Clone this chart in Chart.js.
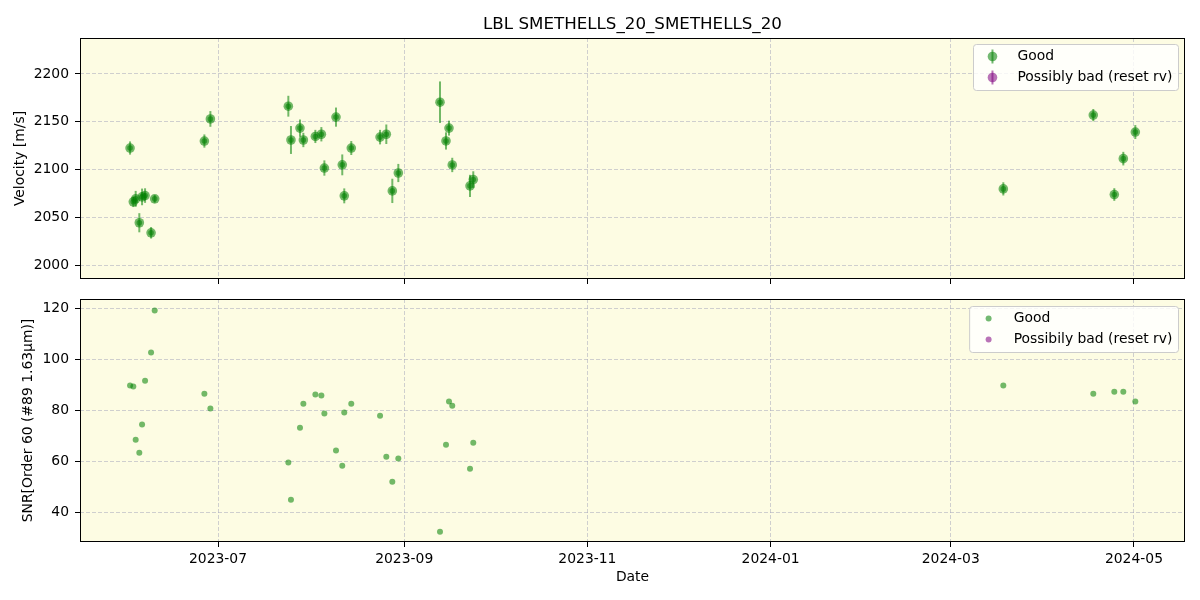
<!DOCTYPE html>
<html>
<head>
<meta charset="utf-8">
<script src="https://cdn.jsdelivr.net/npm/chart.js@4/dist/chart.umd.min.js"></script>
<style>
  body { margin: 0; background: #fff; }
  #wrap { position: relative; width: 1200px; height: 600px; }
  canvas { position: absolute; left: 0; }
</style>
</head>
<body>
<div id="wrap">
  <canvas id="rvChart" width="1200" height="290" style="top:0"></canvas>
  <canvas id="snrChart" width="1200" height="310" style="top:290px"></canvas>
</div>
<script>
const chartTitle = 'LBL SMETHELLS_20_SMETHELLS_20';

// observation times (UTC)
const dates = [
  '2023-06-01T17:00', '2023-06-02T19:00', '2023-06-03T14:00', '2023-06-04T19:00', '2023-06-05T17:00',
  '2023-06-06T17:00', '2023-06-08T17:00', '2023-06-09T22:00', '2023-06-26T11:00', '2023-06-28T11:00',
  '2023-07-24T10:00', '2023-07-25T07:00', '2023-07-28T07:00', '2023-07-29T10:00', '2023-08-02T10:00',
  '2023-08-04T10:00', '2023-08-05T10:00', '2023-08-09T07:00', '2023-08-11T09:00', '2023-08-12T01:00',
  '2023-08-14T09:00', '2023-08-23T23:00', '2023-08-26T01:00', '2023-08-28T01:00', '2023-08-30T01:00',
  '2023-09-12T22:00', '2023-09-14T22:00', '2023-09-15T22:00', '2023-09-17T00:00', '2023-09-22T22:00',
  '2023-09-24T00:00', '2024-03-18T12:00', '2024-04-17T11:00', '2024-04-24T11:00', '2024-04-27T11:00',
  '2024-05-01T11:00'
];
const velocity = [
  2122.6, 2066.4, 2069.5, 2044.5, 2071.5, 2072.9, 2034.0, 2069.5, 2129.9, 2153.0,
  2166.3, 2131.0, 2143.4, 2131.0, 2134.7, 2137.0, 2101.7, 2154.9, 2105.0, 2072.6,
  2122.6, 2134.0, 2137.0, 2077.8, 2096.5, 2170.5, 2130.0, 2143.4, 2104.9, 2083.0,
  2089.6, 2079.9, 2157.0, 2074.0, 2111.5, 2139.3
];
const velocityErr = [
  6.9, 5.5, 8.3, 10.0, 8.7, 7.6, 6.0, 4.0, 6.9, 8.2,
  10.9, 14.6, 9.0, 7.5, 6.9, 7.5, 8.0, 10.0, 10.9, 7.8,
  7.3, 7.6, 10.2, 12.7, 9.5, 21.7, 9.0, 7.8, 7.5, 11.6,
  8.7, 6.9, 6.4, 6.6, 7.1, 7.3
];
const snr = [
  89.7, 89.3, 68.5, 63.4, 74.4, 91.6, 102.6, 119.1, 86.5, 80.7,
  59.5, 45.0, 73.2, 82.6, 86.2, 85.8, 78.7, 64.2, 58.3, 79.1,
  82.6, 77.9, 61.8, 52.0, 61.1, 32.4, 66.5, 83.4, 81.8, 57.1,
  67.3, 89.7, 86.5, 87.3, 87.3, 83.4
];
// no points flagged as possibly bad
const badDates = [];
const badVelocity = [];
const badVelocityErr = [];
const badSnr = [];

const dateRange = ['2023-05-16T01:00', '2024-05-18T00:00'];
const dateTicks = ['2023-07', '2023-09', '2023-11', '2024-01', '2024-03', '2024-05'];
const velocityRange = [1985.7, 2237.6];
const velocityTicks = [2000, 2050, 2100, 2150, 2200];
const snrRange = [28.4, 123.6];
const snrTicks = [40, 60, 80, 100, 120];

const FONT = 'DejaVu Sans';
const FS = 13.9;
const GOOD = 'rgba(0,128,0,0.55)';
const BAD = 'rgba(128,0,128,0.55)';

function toMs(s) {
  if (s.length === 7) s += '-01T00:00';
  return Date.parse(s + 'Z');
}
const tickMs = dateTicks.map(toMs);

function points(xs, ys) {
  return xs.map((d, i) => ({ x: toMs(d), y: ys[i] }));
}

const plotFrame = {
  id: 'plotFrame',
  beforeDraw(chart, args, opts) {
    const a = chart.chartArea, ctx = chart.ctx;
    ctx.save();
    ctx.fillStyle = '#fdfce3';
    ctx.fillRect(a.left, a.top, a.width, a.height);
    if (opts.title) {
      // title centred over the axes, like matplotlib
      ctx.fillStyle = '#000';
      ctx.font = '16.7px "' + FONT + '"';
      ctx.textAlign = 'center';
      ctx.textBaseline = 'middle';
      ctx.fillText(opts.title, (a.left + a.right) / 2, 24.5);
    }
    ctx.restore();
  },
  afterDatasetsDraw(chart) {
    const a = chart.chartArea, ctx = chart.ctx;
    ctx.save();
    ctx.strokeStyle = '#000';
    ctx.lineWidth = 1;
    ctx.strokeRect(Math.round(a.left) + 0.5, Math.round(a.top) + 0.5,
      Math.round(a.width) - 1, Math.round(a.height) - 1);
    ctx.restore();
  }
};

const errorBars = {
  id: 'errorBars',
  beforeDatasetsDraw(chart) {
    const ctx = chart.ctx, y = chart.scales.y;
    chart.data.datasets.forEach((ds, i) => {
      if (!ds.yErr) return;
      const meta = chart.getDatasetMeta(i);
      ctx.save();
      ctx.strokeStyle = ds.backgroundColor;
      ctx.lineWidth = 2;
      meta.data.forEach((pt, j) => {
        const v = ds.data[j].y, e = ds.yErr[j];
        ctx.beginPath();
        ctx.moveTo(pt.x, y.getPixelForValue(v - e));
        ctx.lineTo(pt.x, y.getPixelForValue(v + e));
        ctx.stroke();
      });
      ctx.restore();
    });
  },
  afterDatasetsDraw(chart) {
    const ctx = chart.ctx;
    chart.data.datasets.forEach((ds, i) => {
      if (!ds.yErr) return;
      const meta = chart.getDatasetMeta(i);
      ctx.save();
      ctx.fillStyle = ds.backgroundColor;
      meta.data.forEach(pt => {
        ctx.beginPath();
        ctx.arc(pt.x, pt.y, 2.8, 0, Math.PI * 2);
        ctx.fill();
      });
      ctx.restore();
    });
  }
};

const boxLegend = {
  id: 'boxLegend',
  afterDraw(chart, args, opts) {
    const ctx = chart.ctx, a = chart.chartArea;
    const items = chart.data.datasets;
    ctx.save();
    ctx.font = FS + 'px "' + FONT + '"';
    const tw = Math.max(...items.map(d => ctx.measureText(d.label).width));
    const w = FS * 0.4 * 2 + FS * 2 + FS * 0.8 + tw;
    const h = 46;
    const x = a.right - 7 - w, top = a.top + opts.gap;
    ctx.beginPath();
    if (ctx.roundRect) ctx.roundRect(x + 0.5, top + 0.5, w, h, 3);
    else ctx.rect(x + 0.5, top + 0.5, w, h);
    ctx.fillStyle = 'rgba(255,255,255,0.8)';
    ctx.fill();
    ctx.strokeStyle = '#cccccc';
    ctx.lineWidth = 1;
    ctx.stroke();
    items.forEach((d, i) => {
      const cy = top + 12.5 + i * 21;
      const mx = x + FS * 0.4 + FS;
      ctx.fillStyle = d.backgroundColor;
      ctx.strokeStyle = d.backgroundColor;
      if (opts.errbar) {
        ctx.lineWidth = 2;
        ctx.beginPath();
        ctx.moveTo(mx, cy - 7);
        ctx.lineTo(mx, cy + 7);
        ctx.stroke();
      }
      ctx.beginPath();
      ctx.arc(mx, cy, opts.radius, 0, Math.PI * 2);
      ctx.fill();
      ctx.fillStyle = '#000';
      ctx.textBaseline = 'middle';
      ctx.textAlign = 'left';
      ctx.fillText(d.label, x + FS * 0.4 + FS * 2 + FS * 0.8, cy);
    });
    ctx.restore();
  }
};

function noPad(scale) {
  scale.paddingTop = 0; scale.paddingBottom = 0;
  scale.paddingLeft = 0; scale.paddingRight = 0;
}

function xScale(showLabels, height) {
  return {
    type: 'linear',
    min: toMs(dateRange[0]),
    max: toMs(dateRange[1]),
    afterBuildTicks: s => { s.ticks = tickMs.map(v => ({ value: v })); },
    afterFit: s => { s.height = height; noPad(s); },
    ticks: {
      display: showLabels,
      autoSkip: false,
      maxRotation: 0,
      padding: 4,
      color: '#000',
      font: { family: FONT, size: FS },
      callback: v => dateTicks[tickMs.indexOf(v)] || ''
    },
    grid: {
      color: 'rgba(170,170,190,0.55)',
      lineWidth: 1,
      drawTicks: true,
      tickLength: 5,
      tickColor: '#000',
      tickWidth: 1
    },
    border: { display: false, dash: [4, 2] },
    title: {
      display: showLabels,
      text: 'Date',
      color: '#000',
      font: { family: FONT, size: FS },
      padding: { top: 0, bottom: 14.6 }
    }
  };
}

function yScale(range, ticks, label, titlePad) {
  return {
    type: 'linear',
    min: range[0],
    max: range[1],
    afterBuildTicks: s => { s.ticks = ticks.map(v => ({ value: v })); },
    afterFit: s => { s.width = 80; noPad(s); },
    ticks: {
      padding: 6,
      color: '#000',
      font: { family: FONT, size: FS },
      callback: v => String(v)
    },
    grid: {
      color: 'rgba(170,170,190,0.55)',
      lineWidth: 1,
      drawTicks: true,
      tickLength: 5,
      tickColor: '#000',
      tickWidth: 1
    },
    border: { display: false, dash: [4, 2] },
    title: {
      display: true,
      text: label,
      color: '#000',
      font: { family: FONT, size: FS },
      padding: { top: titlePad, bottom: 0 }
    }
  };
}

new Chart(document.getElementById('rvChart'), {
  type: 'scatter',
  data: {
    datasets: [
      {
        label: 'Good',
        data: points(dates, velocity),
        yErr: velocityErr,
        backgroundColor: GOOD,
        borderWidth: 0,
        pointRadius: 4.8
      },
      {
        label: 'Possibly bad (reset rv)',
        data: points(badDates, badVelocity),
        yErr: badVelocityErr,
        backgroundColor: BAD,
        borderWidth: 0,
        pointRadius: 4.8
      }
    ]
  },
  options: {
    responsive: false,
    animation: false,
    devicePixelRatio: 1,
    events: [],
    layout: { padding: { left: 0, right: 15, top: 38, bottom: 0 } },
    scales: {
      x: xScale(false, 11),
      y: yScale(velocityRange, velocityTicks, 'Velocity [m/s]', 12.5)
    },
    plugins: {
      legend: { display: false },
      tooltip: { enabled: false },
      title: { display: false },
      plotFrame: { title: chartTitle },
      boxLegend: { errbar: true, radius: 4.8, gap: 6 }
    }
  },
  plugins: [plotFrame, errorBars, boxLegend]
});

new Chart(document.getElementById('snrChart'), {
  type: 'scatter',
  data: {
    datasets: [
      {
        label: 'Good',
        data: points(dates, snr),
        backgroundColor: 'rgba(0,128,0,0.55)',
        borderWidth: 0,
        pointRadius: 3
      },
      {
        label: 'Possibily bad (reset rv)',
        data: points(badDates, badSnr),
        backgroundColor: 'rgba(128,0,128,0.55)',
        borderWidth: 0,
        pointRadius: 3
      }
    ]
  },
  options: {
    responsive: false,
    animation: false,
    devicePixelRatio: 1,
    events: [],
    layout: { padding: { left: 0, right: 15, top: 9, bottom: 0 } },
    scales: {
      x: xScale(true, 58),
      y: yScale(snrRange, snrTicks, 'SNR[Order 60 (#89 1.63μm)]', 20)
    },
    plugins: {
      legend: { display: false },
      tooltip: { enabled: false },
      plotFrame: {},
      boxLegend: { errbar: false, radius: 3, gap: 7 }
    }
  },
  plugins: [plotFrame, boxLegend]
});
</script>
</body>
</html>
